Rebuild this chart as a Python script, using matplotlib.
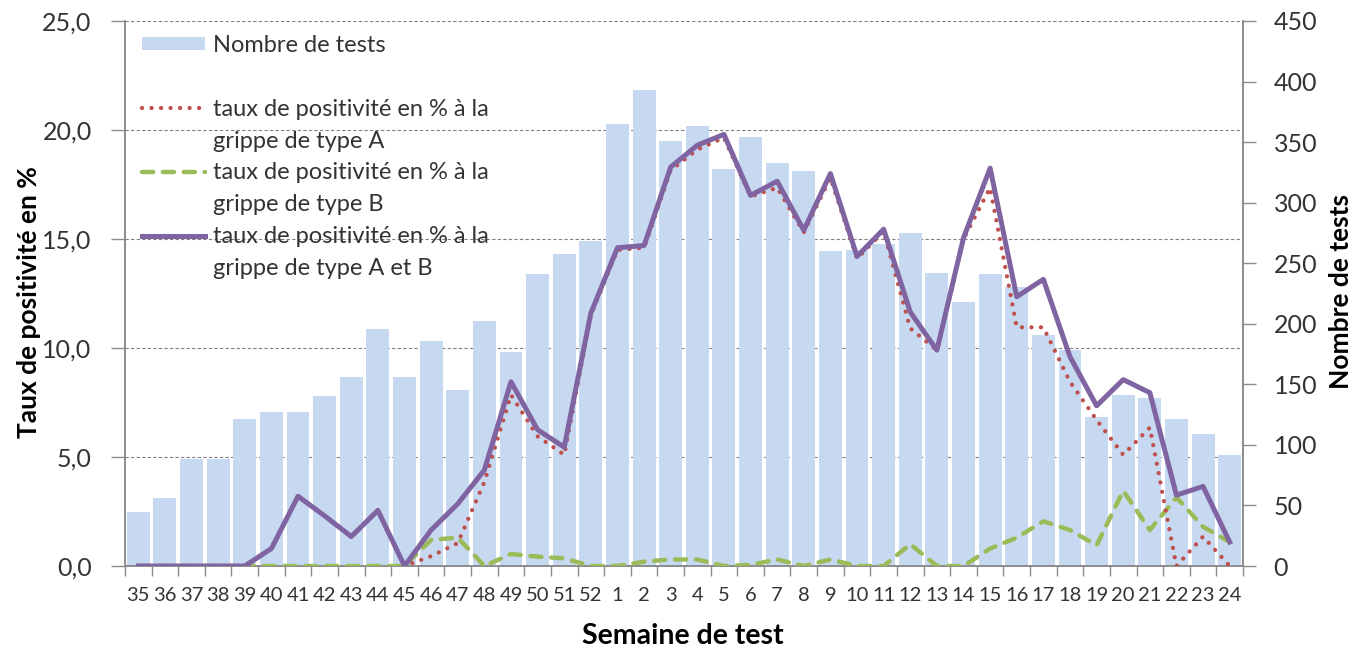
import matplotlib
matplotlib.use("Agg")
import matplotlib.pyplot as plt
from matplotlib.lines import Line2D
from matplotlib.patches import Rectangle
import numpy as np

plt.rcParams['font.family'] = ['Lato', 'DejaVu Sans']

weeks = ['35', '36', '37', '38', '39', '40', '41', '42', '43', '44', '45', '46', '47', '48',
         '49', '50', '51', '52', '1', '2', '3', '4', '5', '6', '7', '8', '9', '10', '11',
         '12', '13', '14', '15', '16', '17', '18', '19', '20', '21', '22', '23', '24']

nb_tests = [45, 56, 88, 88, 121, 127, 127, 140, 156, 196, 156, 186, 145, 202,
            177, 241, 258, 268, 365, 393, 351, 363, 328, 354, 333, 326, 260, 261, 266,
            275, 242, 218, 241, 230, 191, 178, 123, 141, 139, 121, 109, 92]

taux_A = [0, 0, 0, 0, 0, 0.8, 3.2, 2.3, 1.35, 2.55, 0, 0.45, 1.05, 3.85,
          7.85, 5.95, 5.1, 11.5, 14.5, 14.6, 18.15, 19.1, 19.65, 16.95, 17.35, 15.3, 17.8, 14.1, 15.35,
          10.9, 9.9, 15.0, 17.35, 10.95, 10.95, 8.45, 6.7, 5.1, 6.35, 0, 1.35, 0]

taux_B = [0, 0, 0, 0, 0, 0, 0, 0, 0, 0, 0, 1.2, 1.3, 0,
          0.55, 0.43, 0.35, 0, 0, 0.2, 0.3, 0.3, 0, 0.05, 0.3, 0, 0.3, 0, 0,
          1.0, 0, 0, 0.8, 1.3, 2.05, 1.65, 0.95, 3.45, 1.65, 3.15, 1.8, 1.1]

taux_AB = [0, 0, 0, 0, 0, 0.8, 3.2, 2.3, 1.35, 2.55, 0, 1.65, 2.85, 4.4,
           8.45, 6.25, 5.45, 11.6, 14.6, 14.7, 18.3, 19.3, 19.8, 17.0, 17.65, 15.4, 18.0, 14.2, 15.45,
           11.65, 9.9, 15.05, 18.25, 12.35, 13.15, 9.6, 7.35, 8.55, 7.95, 3.25, 3.65, 1.1]

left_ticks = [0, 5, 10, 15, 20, 25]
right_ticks = [0, 50, 100, 150, 200, 250, 300, 350, 400, 450]

bar_color = '#C6D9F1'
col_A = '#C0504D'
col_B = '#9BBB59'
col_AB = '#8064A2'
axis_col = '#8C8C8C'
txt_col = '#333333'

ls_A = (0, (0.01, 2.2))
ls_B = (0, (2.5, 2.2))

fig = plt.figure(figsize=(13.62, 6.49), dpi=100)
ax = fig.add_axes([125/1362, 1-566/649, 1118/1362, 545/649])  # bars (right scale)
ax2 = ax.twinx()  # lines (left scale)

x = np.arange(len(weeks))

# bars on ax, right-side scale
ax.bar(x, nb_tests, width=0.86, color=bar_color, zorder=2)
ax.set_ylim(0, right_ticks[-1])
ax.set_xlim(-0.5, len(weeks) - 0.5)
# gridlines corresponding to left ticks, behind the bars
for t in left_ticks[1:]:
    ax.axhline(t * right_ticks[-1] / left_ticks[-1], color='#808080', lw=0.8,
               ls=(0, (3, 2)), zorder=1)

ax.yaxis.tick_right()
ax.yaxis.set_label_position('right')
ax.set_yticks(right_ticks)
ax.set_yticklabels([str(v) for v in right_ticks])

# lines on ax2, left-side scale
ax2.plot(x, taux_B, color=col_B, lw=3.2, ls=ls_B, dash_capstyle='round', zorder=3)
ax2.plot(x, taux_A, color=col_A, lw=3.1, ls=ls_A, dash_capstyle='round', zorder=4)
ax2.plot(x, taux_AB, color=col_AB, lw=3.6, zorder=5)
ax2.set_ylim(0, left_ticks[-1])
ax2.yaxis.tick_left()
ax2.yaxis.set_label_position('left')
ax2.set_yticks(left_ticks)
ax2.set_yticklabels([f"{v:.1f}".replace('.', ',') for v in left_ticks])

# x ticks: marks at boundaries, labels at centers
ax.set_xticks(np.arange(-0.5, len(weeks), 1.0))
ax.set_xticklabels([])
ax.set_xticks(x, minor=True)
ax.set_xticklabels(weeks, minor=True)
ax.tick_params(axis='x', which='major', length=7, width=1, color=axis_col)
ax.tick_params(axis='x', which='minor', length=0, pad=15, labelsize=14.5, labelcolor=txt_col)
ax.tick_params(axis='y', which='major', length=9, width=1, color=axis_col, pad=13,
               labelsize=18, labelcolor=txt_col)
ax2.tick_params(axis='y', which='major', length=10, width=1, color=axis_col, pad=14,
                labelsize=18, labelcolor=txt_col)
ax2.tick_params(axis='x', which='both', length=0, labelbottom=False)

for a in (ax, ax2):
    a.spines['top'].set_visible(False)
    for s in ('left', 'right', 'bottom'):
        a.spines[s].set_color(axis_col)
        a.spines[s].set_linewidth(1.2)

ax2.set_ylabel('Taux de positivité en %', fontsize=19, fontweight='bold', color='#000000')
ax2.yaxis.set_label_coords(-0.075, 0.4835)
ax.set_ylabel('Nombre de tests', fontsize=19, fontweight='bold', color='#000000')
ax.yaxis.set_label_coords(1.077, 0.503)
ax.set_xlabel('Semaine de test', fontsize=20.5, fontweight='bold', color='#000000',
              va='center')
ax.xaxis.set_label_coords(0.499, -0.128)

# legend (Excel style: handle aligned with first line of each entry)
blank = Line2D([], [], linestyle='none')
handles = [Rectangle((0, 0), 1, 1, facecolor=bar_color, edgecolor='none'), blank,
           Line2D([], [], color=col_A, lw=3.1, ls=ls_A, dash_capstyle='round'), blank,
           Line2D([], [], color=col_B, lw=3.2, ls=ls_B, dash_capstyle='round'), blank,
           Line2D([], [], color=col_AB, lw=3.6), blank]
labels = ['Nombre de tests', ' ',
          'taux de positivité en % à la', 'grippe de type A',
          'taux de positivité en % à la', 'grippe de type B',
          'taux de positivité en % à la', 'grippe de type A et B']
leg = ax2.legend(handles, labels, loc='upper left', bbox_to_anchor=(17/1118, 1 - 14/545),
                 frameon=False, fontsize=17, handlelength=2.67, handleheight=0.5,
                 handletextpad=0.34, labelspacing=0.46, borderpad=0, borderaxespad=0)
for t in leg.get_texts():
    t.set_color(txt_col)

fig.savefig('out.png', dpi=100)
